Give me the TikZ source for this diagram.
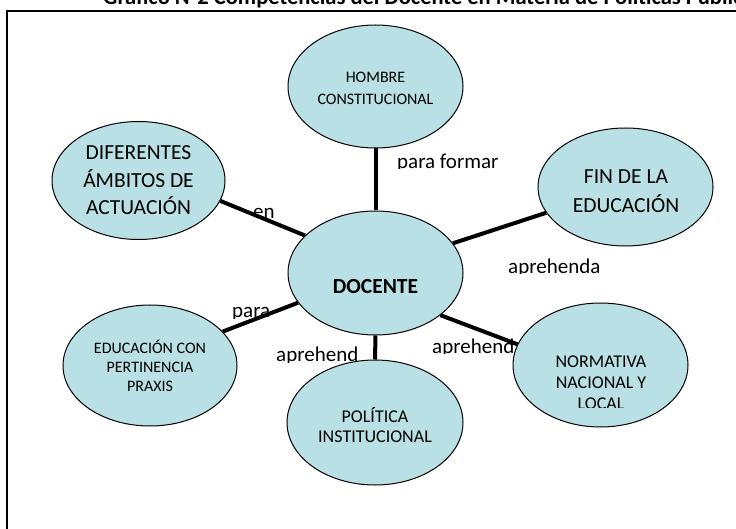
\documentclass[tikz,border=0pt]{standalone}
\usepackage{fontspec}
\setmainfont{Carlito}
\usetikzlibrary{shapes.geometric}
\definecolor{nodefill}{RGB}{185,224,228}
\pgfdeclarelayer{lab}
\pgfdeclarelayer{lin}
\pgfsetlayers{lab,lin,main}
\begin{document}
\begin{tikzpicture}[x=1pt,y=-1pt,
  bubble/.style={ellipse, draw=black, line width=1pt, fill=nodefill, inner sep=0pt},
  conn/.style={line width=4pt},
  lbl/.style={font=\fontsize{21}{21}\selectfont, anchor=base west, inner sep=0pt},
  txtS/.style={font=\fontsize{16}{22}\selectfont, align=center, inner sep=0pt},
  txtL/.style={font=\fontsize{21.5}{27.5}\selectfont, align=center, inner sep=0pt},
  txtM/.style={font=\fontsize{18}{20.5}\selectfont, align=center, inner sep=0pt},
  frame/.style={line width=1.5pt}
]
\useasboundingbox (0,0) rectangle (736,529);

% title and frame
\node[font=\bfseries\fontsize{22.5}{22.5}\selectfont, anchor=base west, inner sep=0pt] (title) at (103,4.5)
  {Gráfico N°2 Competencias del Docente en Materia de Políticas Públicas};
\coordinate (fbl) at (7,600);
\coordinate (ftl) at (7,11);
\coordinate (ftr) at (800,11);
\draw[frame] (fbl) -- (ftl) -- (ftr);

% ellipses
\node[bubble, minimum width=175pt, minimum height=123pt] (hom) at (375.5,86.5) {};
\node[bubble, minimum width=173pt, minimum height=118pt] (dif) at (138.5,180.5) {};
\node[bubble, minimum width=175pt, minimum height=118pt] (fin) at (625.5,187) {};
\node[bubble, minimum width=175pt, minimum height=124pt] (doc) at (375.5,273) {};
\node[bubble, minimum width=174pt, minimum height=121pt] (edu) at (150,365.5) {};
\node[bubble, minimum width=176pt, minimum height=125pt] (pol) at (375,422.5) {};
\node[bubble, minimum width=175pt, minimum height=124pt] (nor) at (600.5,365) {};

% ellipse texts
\node[txtS] (homt) at (375.5,88.5) {HOMBRE\\CONSTITUCIONAL};
\node[txtL] (dift) at (138.5,180.5) {DIFERENTES\\ÁMBITOS DE\\ACTUACIÓN};
\node[txtL, font=\fontsize{21.5}{29}\selectfont] (fint) at (626,191) {FIN DE LA\\EDUCACIÓN};
\node[font=\bfseries\fontsize{21.5}{21.5}\selectfont, inner sep=0pt] (doct) at (375.5,287) {DOCENTE};
\node[txtS, font=\fontsize{16}{19}\selectfont] (edut) at (150,366) {EDUCACIÓN CON\\PERTINENCIA\\PRAXIS};
\node[txtM] (polt) at (375,425) {POLÍTICA\\INSTITUCIONAL};
\begin{scope}
  \clip (513,300) rectangle (688,407);
  \node[txtM, font=\fontsize{18}{21}\selectfont] (nort) at (601,383) {NORMATIVA\\NACIONAL Y\\LOCAL};
\end{scope}

% connectors
\begin{pgfonlayer}{lin}
\draw[conn] (hom.south) -- (doc.north);
\draw[conn] (dif.-14) -- (doc.152);
\draw[conn] (fin.-162) -- (doc.21);
\draw[conn] (edu.25) -- (doc.-159);
\draw[conn] (pol.north) -- (doc.south);
\draw[conn] (nor.166) -- (doc.-33);
\end{pgfonlayer}

% connector labels
\begin{pgfonlayer}{lab}
\begin{scope}\clip (390,140) rectangle (520,169);
  \node[lbl] (l1) at (397,168.5) {para formar};\end{scope}
\begin{scope}\clip (245,195) rectangle (290,220);
  \node[lbl] (l2) at (253,219) {en};\end{scope}
\begin{scope}\clip (500,250) rectangle (620,273.5);
  \node[lbl] (l3) at (508,273.5) {aprehenda};\end{scope}
\begin{scope}\clip (225,295) rectangle (280,318);
  \node[lbl] (l4) at (232,317.5) {para};\end{scope}
\begin{scope}\clip (268,335) rectangle (370,362.5);
  \node[lbl] (l5) at (276,361.5) {aprehend};\end{scope}
\begin{scope}\clip (425,325) rectangle (530,353.5);
  \node[lbl] (l6) at (432,353.5) {aprehend};\end{scope}
\end{pgfonlayer}
\end{tikzpicture}
\end{document}
